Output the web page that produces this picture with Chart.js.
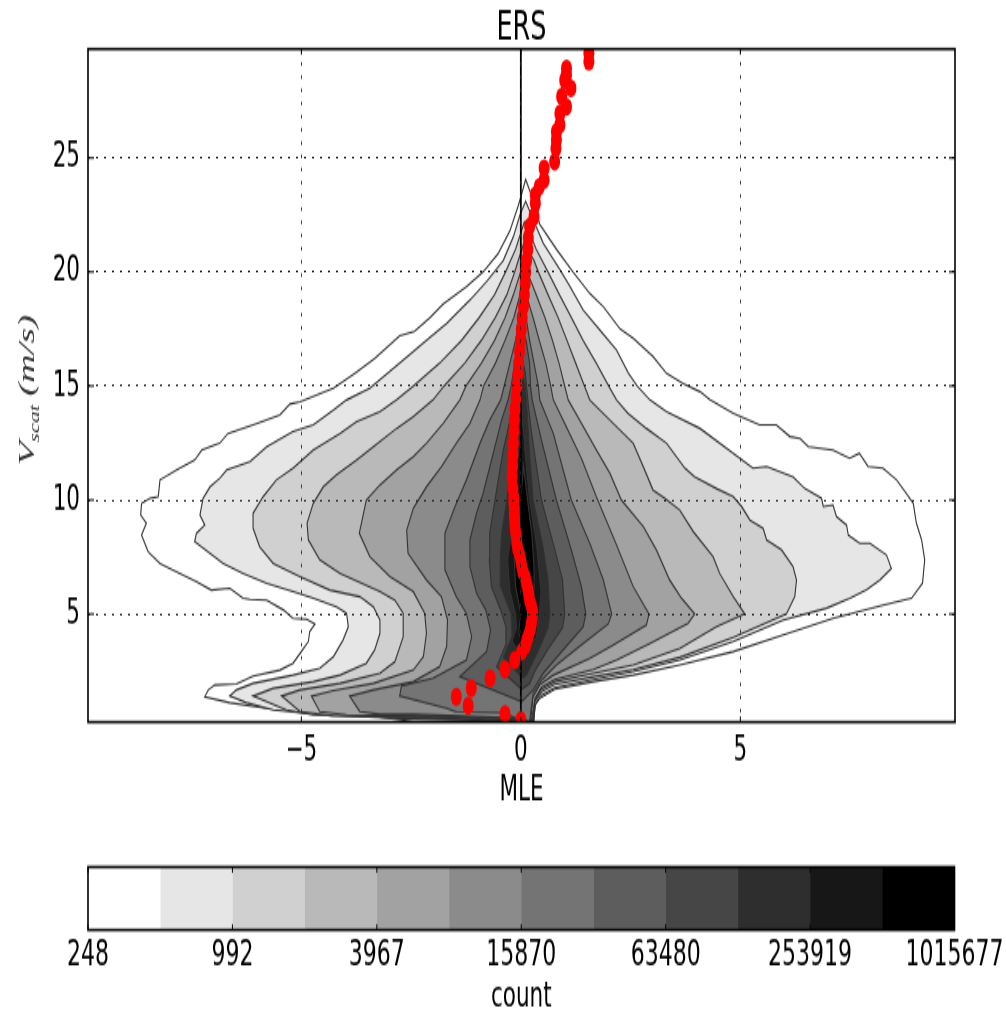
<!DOCTYPE html>
<html><head><meta charset="utf-8">
<script src="https://cdn.jsdelivr.net/npm/chart.js@4/dist/chart.umd.js"></script>
<style>
html,body{margin:0;padding:0;background:#fff;overflow:hidden;width:1006px;height:1010px}
#wrap{position:absolute;left:0;top:0;width:1006px;height:612px;transform:scaleY(1.65);transform-origin:0 0;filter:blur(0.45px)}
canvas{position:absolute;left:0;display:block}
</style></head><body>
<div id="wrap">
<canvas id="main" width="1006" height="500" style="top:0"></canvas>
<canvas id="bar" width="1006" height="115" style="top:500px"></canvas>
</div>
<script>
const titleText = 'ERS', xLabel = 'MLE', barLabel = 'count';
const xTicks = [-5, 0, 5], yTicks = [5, 10, 15, 20, 25];
const bandColors = ['#ffffff','#e6e6e6','#d0d0d0','#b9b9b9','#a2a2a2','#8b8b8b','#747474','#5d5d5d','#464646','#2e2e2e','#171717','#000000'];
const bandEdges = [248,496,992,1984,3967,7935,15870,31740,63480,126960,253919,507838,1015677];
const barTicks = [248,992,3967,15870,63480,253919,1015677];

const c1x=[-2.45,-3.59,-4.73,-5.79,-6.63,-7.2,-7.12,-6.97,-6.48,-6.1,-5.49,-5.19,-5.03,-4.84,-4.81,-4.69,-4.88,-5.19,-5.41,-5.79,-6.17,-6.33,-6.63,-7.05,-7.39,-8,-8.22,-8.49,-8.64,-8.53,-8.66,-8.64,-8.45,-8.26,-8.22,-7.84,-7.43,-7.27,-6.86,-6.67,-6.1,-5.49,-5.26,-5.03,-4.27,-3.78,-3.33,-2.76,-2.42,-2.07,-1.77,-1.24,-.86,-.52,-.25,-.06,0,.11,.28,.43,.81,1.19,1.57,1.88,2.26,2.56,3.01,3.32,3.7,4.08,4.31,4.84,5.44,5.82,6.13,6.36,6.55,7.11,7.49,7.71,7.91,8.25,8.56,8.75,8.94,9.01,9.13,9.2,9.15,8.9,8.25,7.11,5.98,4.84,3.62,2.56,1.65,.77,.43,.32,.3];
const c1y=[.28,.57,.72,.86,1.11,1.37,1.67,1.89,1.93,2.28,2.54,2.84,3.27,3.79,4.23,4.56,4.77,4.81,5.18,5.61,5.64,5.69,6.13,6.05,6.42,7,7.22,7.73,8.46,8.98,9.34,9.85,10.07,10.15,10.88,11.32,11.75,12.19,12.49,12.92,13.29,13.73,14.21,14.31,14.9,15.56,16.2,17.2,17.4,18,18.6,19.36,20,20.8,21.8,22.9,23.3,24.06,23.16,22.1,21,20,19.06,18.48,17.5,17.1,16.3,15.55,15.1,14.75,14.39,13.8,13.29,13.29,12.78,12.7,12.34,12.19,11.83,12.05,11.47,11.39,10.88,10.37,9.85,8.98,8.25,7.37,6.35,5.69,5.39,4.81,4.08,3.35,2.76,2.32,2.03,1.7,1.3,1.01,.28];

const c2x=[-.2,-2.76,-4.73,-5.64,-6.25,-6.63,-6.48,-6.1,-5.19,-4.58,-4.27,-4.05,-3.93,-3.97,-4.2,-4.73,-5.19,-5.79,-6.33,-6.78,-7.43,-7.39,-7.2,-7.31,-7.24,-7.08,-6.86,-6.7,-6.17,-5.79,-5.19,-4.73,-4.27,-3.97,-3.44,-2.76,-2.15,-1.69,-1.16,-.78,-.4,-.17,-.02,.11,.28,.51,.89,1.12,1.42,1.8,2.18,2.45,2.65,2.94,3.32,4.08,4.84,5.29,5.6,6.2,6.47,6.85,6.89,7.11,7.19,7.42,7.46,7.72,7.95,8.33,8.44,8.18,7.87,7.5,6.96,5.98,4.84,3.62,2.56,1.65,.77,.47,.34,.28];
const c2y=[.3,.42,.61,.79,1.11,1.4,1.67,1.96,2.32,2.62,3.13,3.86,4.44,5.03,5.32,5.69,5.98,6.35,6.78,7.22,8.17,8.54,8.9,9.34,10.07,10.58,10.95,11.32,11.68,12.34,13,13.29,13.95,14.39,14.9,16,17,17.75,18.77,19.58,20.5,21.55,22.5,23.1,22.3,21.26,20.1,19.36,18.33,17.46,16.58,15.56,15,14.39,13.88,13.14,12.04,11.39,11.47,11.02,10.5,10.07,9.71,9.78,9.27,8.9,8.46,8.1,8.1,7.59,7,6.49,6.05,5.69,5.25,4.74,3.79,2.98,2.47,2.13,1.77,1.45,1.08,.28];

const c3x=[-.15,-2.45,-4.73,-5.34,-6.1,-5.64,-4.73,-4.12,-3.52,-3.33,-3.21,-3.21,-3.36,-3.67,-4.35,-5.03,-5.64,-5.95,-6.1,-6.1,-5.87,-5.57,-5.19,-4.73,-4.12,-3.74,-3.21,-2.83,-2.45,-1.85,-1.35,-.95,-.6,-.35,-.12,.08,.2,.35,.62,.88,1.15,1.42,1.72,2,2.18,2.44,2.86,3.32,3.74,3.96,4.46,4.84,5.03,5.22,5.52,5.6,5.94,6.2,6.28,6.24,6.05,4.84,3.62,2.56,1.65,.77,.47,.32,.28];
const c3y=[.33,.46,.57,.79,1.4,1.74,2.03,2.32,2.84,3.42,4.15,4.74,5.32,5.76,6.05,6.64,7.22,7.95,8.76,9.42,10.15,10.88,11.39,12.19,12.92,13.44,13.87,14.39,15,16,17,18,19,20,21,22.2,21.7,21,20,19,18,17,16,15,14.39,13.8,13.14,12.49,11.39,11.02,10.5,10.15,9.71,9.12,8.76,8.25,7.81,7.08,6.49,5.76,5,3.98,3.1,2.57,2.25,1.91,1.59,1.15,.28];

const c4x=[-.1,-2.45,-4.27,-5.03,-5.45,-5.03,-4.12,-3.21,-2.87,-2.68,-2.68,-2.87,-3.21,-4.12,-4.58,-4.84,-4.87,-4.73,-4.5,-4.2,-3.74,-3.36,-2.83,-2.45,-2,-1.75,-1.28,-.9,-.58,-.32,-.14,.07,.3,.4,.62,.85,1.05,1.25,1.45,1.57,2.03,2.56,2.79,3.01,3.28,3.62,3.93,4.38,4.53,4.84,5.1,4.46,3.62,2.56,1.65,.77,.47,.32,.26];
const c4y=[.36,.5,.53,.72,1.4,1.67,1.96,2.4,2.91,4,5.03,5.61,5.98,6.78,7.37,8.25,8.98,9.85,10.58,11.1,11.75,12.34,13.14,13.65,14.39,15,16,17,18,19,20,21.3,20.5,20,19,18,17,16,15,14.39,13.5,12.49,11.46,10.44,10.07,9.56,8.61,7.51,6.78,5.76,5,4.44,3.49,2.76,2.4,2.03,1.7,1.22,.28];

const c5x=[-.08,-2.45,-3.97,-4.58,-4.77,-4.27,-3.36,-2.45,-2.22,-2.15,-2.19,-2.45,-2.98,-3.44,-3.68,-3.52,-3.21,-2.83,-2.45,-2.15,-1.77,-1.39,-1.25,-.9,-.6,-.36,-.17,.06,.25,.35,.55,.72,.87,1,1.08,1.34,1.72,2.03,2.29,2.79,3.09,3.39,3.66,3.96,3.81,2.94,2.18,1.65,.77,.47,.32,.24];
const c5y=[.4,.55,.58,.72,1.4,1.64,1.96,2.54,3.13,4.15,5.03,5.98,6.64,7.51,8.54,10,10.66,11.32,11.9,12.49,13.36,14.39,15,16,17,18,19,20.4,19.5,19,18,17,16,15,14.39,13.5,12.2,11.17,10,8.83,7.8,6.49,5.69,5,4.59,3.71,2.98,2.57,2.13,1.78,1.3,.28];

const c6x=[-.05,-2.45,-3.21,-3.67,-3.9,-3.36,-2.45,-1.85,-1.69,-1.67,-1.81,-2.15,-2.57,-2.6,-2.45,-2.15,-1.81,-1.47,-1.16,-.93,-.85,-.58,-.36,-.16,.05,.2,.28,.42,.57,.68,.74,1.04,1.38,1.72,2.18,2.56,2.92,2.86,2.1,1.57,.74,.43,.28,.22];
const c6y=[.44,.6,.6,.72,1.4,1.67,2.03,2.69,3.57,4.74,5.76,6.49,7.66,8.68,9.63,10.58,11.46,12.49,13.36,14.39,15,16,17,18,19.5,18.5,18,17,16,15,14.39,13.2,11.83,10.15,8.03,6.2,5,4.52,3.64,3.06,2.32,1.89,1.37,.28];

const c7x=[-.02,-.4,-1.47,-1.69,-2.76,-2.72,-2,-1.24,-1.12,-1.24,-1.47,-1.73,-1.73,-1.5,-1.24,-.93,-.71,-.46,-.38,-.25,-.12,.04,.12,.2,.3,.4,.43,.74,1.15,1.57,1.88,2.07,1.99,1.42,.81,.47,.28,.2];
const c7y=[.36,.66,.7,.86,1.4,1.84,2.18,2.98,4,5.03,5.76,6.93,8.54,9.71,10.88,12.49,13.5,14.39,15,16,17,18.5,18,17,16,15,14.39,12.92,10,8.1,6.49,5,4.56,3.71,2.76,2.1,1.52,.28];

const c8x=[.02,-1.39,-.78,-.69,-.8,-1.01,-1.16,-1.16,-1.01,-.86,-.63,-.44,-.29,-.22,-.14,-.04,.03,.12,.2,.22,.26,.47,.81,1.15,1.38,1.48,1.42,.96,.51,.28];
const c8y=[1.15,2.25,3.35,4.3,5.18,5.91,7.08,8.25,9.42,10.29,12.05,13.5,14.39,15,16,17,17.5,17,16,15,14.39,12.63,10,7.81,6.2,5,4.44,3.42,2.4,1.67];

const c9x=[.02,-.55,-.36,-.34,-.46,-.67,-.72,-.71,-.59,-.4,-.21,-.1,0,.02,.1,.13,.18,.24,.47,.75,.95,1,.95,.6,.32,.2];
const c9y=[1.7,2.69,3.57,4.44,5.18,6.2,7.37,8.54,10,12.19,13.8,15,16,16.3,15.6,15,14,13,10,8,6.5,5,4.4,3.4,2.5,1.95];

const c10x=[.03,-.4,-.2,-.22,-.46,-.47,-.44,-.32,-.2,-.08,.04,.1,.14,.2,.28,.5,.62,.66,.62,.4,.2,.12];
const c10y=[2.2,3.1,4,5,6.2,7.37,8.5,10,12,14,15.5,15,14,12,10,8,6.5,5,4.4,3.4,2.6,2.3];

const c11x=[.05,-.2,-.1,-.12,-.25,-.3,-.22,-.14,-.06,.04,.1,.2,.36,.46,.42,.35,.2];
const c11y=[3,3.8,4.4,5,6,7.4,8.5,10,12,13.5,12,10,8,6,5,4,3.4];

const c12x=[.05,-.05,0,-.12,-.15,-.08,0,.06,.12,.25,.3,.3,.25,.15];
const c12y=[3.6,4.2,5,6.2,7.4,8.5,10,11.5,10.5,8.5,7,5.5,4.8,4];

const redX=[0,-.36,-1.2,-1.47,-1.13,-.7,-.36,-.14,.02,.1,.14,.18,.22,.24,.26,.27,.24,.2,.18,.16,.13,.1,.05,.02,0,-.03,-.07,-.09,-.1,-.12,-.13,-.14,-.15,-.15,-.16,-.16,-.18,-.2,-.19,-.18,-.17,-.16,-.15,-.13,-.11,-.09,-.07,-.05,-.03,-.01,.01,.03,.06,.08,.1,.11,.13,.16,.17,.2,.3,.33,.33,.42,.53,.53,.77,.8,.81,.81,.89,.89,1.04,.93,1.14,1,1.04,1.04,1.55,1.55];
const redY=[.35,.61,.98,1.37,1.75,2.18,2.57,2.98,3.35,3.6,3.85,4.1,4.35,4.6,4.85,5.1,5.35,5.6,5.85,6.1,6.35,6.6,6.85,7.1,7.35,7.6,7.85,8.1,8.35,8.6,8.85,9.1,9.35,9.6,9.85,10.1,10.5,11,11.5,12,12.5,13,13.5,14,14.5,15,15.5,16,16.5,17,17.5,18,18.5,19,19.5,20,20.5,21,21.5,22,22.43,23.01,23.38,23.74,24.03,24.55,24.84,25.42,25.79,26.15,26.45,26.96,27.25,27.7,28.06,28.42,28.64,28.93,29.23,29.6];

const contours=[[c1x,c1y],[c2x,c2y],[c3x,c3y],[c4x,c4y],[c5x,c5y],[c6x,c6y],[c7x,c7y],[c8x,c8y],[c9x,c9y],[c10x,c10y],[c11x,c11y],[c12x,c12y]];

const tickFont={family:'"DejaVu Sans"',size:21.5,lineHeight:1.2};
const barFont={family:'"DejaVu Sans"',size:22,lineHeight:1.2};
const toPts=(xs,ys)=>xs.map((x,i)=>({x,y:ys[i]}));

const frame={id:'frame',afterDraw(chart){
  const {ctx,chartArea:a,scales}=chart;
  ctx.save();ctx.strokeStyle='#000';ctx.lineWidth=1.6;
  ctx.strokeRect(a.left,a.top,a.right-a.left,a.bottom-a.top);
  ctx.lineWidth=1;ctx.beginPath();
  const xs=scales.x;
  xs.ticks.forEach(t=>{const p=xs.getPixelForValue(t.value);
    ctx.moveTo(p,a.bottom);ctx.lineTo(p,a.bottom-3.5);ctx.moveTo(p,a.top);ctx.lineTo(p,a.top+3.5);});
  if(chart.canvas.id==='main'){const ys=scales.y;
    ys.ticks.forEach(t=>{const p=ys.getPixelForValue(t.value);
      ctx.moveTo(a.left,p);ctx.lineTo(a.left+6,p);ctx.moveTo(a.right,p);ctx.lineTo(a.right-6,p);});}
  ctx.stroke();ctx.restore();
}};

const yTitle={id:'yTitle',afterDraw(chart){
  const {ctx}=chart;ctx.save();ctx.translate(34,282);ctx.rotate(-Math.PI/2);
  ctx.fillStyle='#333';ctx.textBaseline='alphabetic';ctx.textAlign='left';
  ctx.font='italic 24px "Liberation Serif"';ctx.fillText('V',0,0);
  ctx.font='italic 14px "Liberation Serif"';ctx.fillText('scat',14,5);
  ctx.font='italic 24px "Liberation Serif"';ctx.fillText('(m/s)',42,0);
  ctx.restore();
}};

const datasets=contours.map(([xs,ys],i)=>{
  const pts=toPts(xs,ys);pts.push(pts[0]);
  return {type:'line',data:pts,order:100-i,borderColor:'#333333',borderWidth:1.1,
    backgroundColor:bandColors[i],fill:'shape',pointRadius:0,tension:0};
});
datasets.push({type:'line',data:[{x:0,y:.26},{x:0,y:29.78}],order:2,borderColor:'#000',borderWidth:1.8,pointRadius:0,fill:false});
datasets.push({type:'scatter',data:toPts(redX,redY),order:1,showLine:false,pointRadius:5.5,pointHoverRadius:5.5,backgroundColor:'#ff0000',borderWidth:0});

const gridOpts={color:'#222',lineWidth:1,drawTicks:false,z:1};
const borderOpts={display:false,dash:[2,6]};
new Chart(document.getElementById('main'),{
  type:'scatter',data:{datasets},
  plugins:[frame,yTitle],
  options:{responsive:false,animation:false,devicePixelRatio:1,
    layout:{padding:{left:0,right:51,top:0,bottom:0}},
    plugins:{legend:{display:false},tooltip:{enabled:false},
      title:{display:true,fullSize:false,text:titleText,color:'#000',font:{family:'"DejaVu Sans"',size:25.5,lineHeight:1,weight:'normal'},padding:{top:4.2,bottom:0}}},
    scales:{
      x:{type:'linear',min:-9.86,max:9.89,border:borderOpts,grid:gridOpts,
        afterBuildTicks:s=>{s.ticks=xTicks.map(v=>({value:v}));},
        afterFit:s=>{s.height=62.4;},
        ticks:{font:tickFont,color:'#000',padding:4.5,maxRotation:0,autoSkip:false,callback:v=>String(v).replace('-','\u2212')},
        title:{display:true,text:xLabel,color:'#000',font:tickFont,padding:{top:0,bottom:8}}},
      y:{type:'linear',min:.26,max:29.78,border:borderOpts,grid:gridOpts,
        afterBuildTicks:s=>{s.ticks=yTicks.map(v=>({value:v}));},
        afterFit:s=>{s.width=88;},
        ticks:{font:tickFont,color:'#000',padding:8,autoSkip:false,callback:v=>String(v)}}
    }}
});

const barSets=bandColors.map((c,i)=>({data:[[bandEdges[i],bandEdges[i+1]]],backgroundColor:c,borderWidth:0,barPercentage:1,categoryPercentage:1,grouped:false}));
new Chart(document.getElementById('bar'),{
  type:'bar',data:{labels:[barLabel],datasets:barSets},
  plugins:[frame],
  options:{indexAxis:'y',responsive:false,animation:false,devicePixelRatio:1,
    layout:{padding:{left:88,right:51,top:25.45,bottom:0}},
    plugins:{legend:{display:false},tooltip:{enabled:false}},
    scales:{
      x:{type:'logarithmic',min:248,max:1015677,border:{display:false},grid:{display:false,drawTicks:false},
        afterBuildTicks:s=>{s.ticks=barTicks.map(v=>({value:v}));},
        afterFit:s=>{s.height=51.4;},
        ticks:{font:barFont,color:'#000',padding:2.5,maxRotation:0,autoSkip:false,callback:v=>String(v)},
        title:{display:true,text:barLabel,color:'#000',font:{family:'"DejaVu Sans"',size:21.5,lineHeight:1},padding:{top:0,bottom:0}}},
      y:{display:false,offset:true}
    }}
});
</script>
</body></html>
